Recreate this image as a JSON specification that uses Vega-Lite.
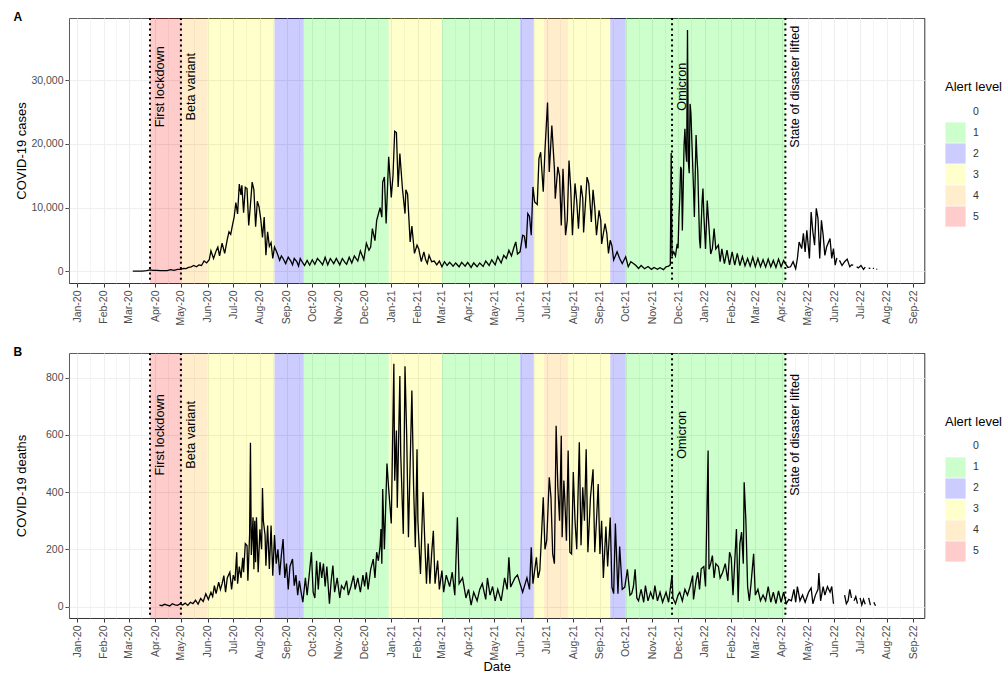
{
"$schema": "https://vega.github.io/schema/vega-lite/v6.json",
"padding": {"left": 13, "top": 10, "right": 0, "bottom": 0},
"config": {
  "font": "Liberation Sans",
  "view": {"stroke": "#333333", "strokeWidth": 1},
  "axis": {"domain": false, "labelFontSize": 10.5, "labelColor": "#4D4D4D", "tickColor": "#333333", "tickSize": 4, "titleFontSize": 13, "titleFontWeight": "normal", "titleColor": "#000000", "gridColor": "#EBEBEB"},
  "legend": {"titleFontSize": 13, "titleFontWeight": "normal", "titleColor": "#000000", "labelFontSize": 10.5, "labelColor": "#333333", "symbolType": "square", "symbolSize": 410, "symbolStrokeWidth": 0, "rowPadding": 0, "labelOffset": 7, "titlePadding": 7, "symbolOpacity": 0.2},
  "title": {"anchor": "start", "frame": "bounds", "fontSize": 12, "fontWeight": "bold", "offset": -7, "dx": -2, "color": "#000000"}
},
"datasets": {
"alerts": [
{"d":"2019-12-20","end":"2020-03-26","level":0},
{"d":"2020-03-26","end":"2020-05-01","level":5},
{"d":"2020-05-01","end":"2020-06-01","level":4},
{"d":"2020-06-01","end":"2020-08-18","level":3},
{"d":"2020-08-18","end":"2020-09-21","level":2},
{"d":"2020-09-21","end":"2020-12-29","level":1},
{"d":"2020-12-29","end":"2021-03-01","level":3},
{"d":"2021-03-01","end":"2021-05-31","level":1},
{"d":"2021-05-31","end":"2021-06-16","level":2},
{"d":"2021-06-16","end":"2021-06-28","level":3},
{"d":"2021-06-28","end":"2021-07-26","level":4},
{"d":"2021-07-26","end":"2021-09-13","level":3},
{"d":"2021-09-13","end":"2021-10-01","level":2},
{"d":"2021-10-01","end":"2022-04-05","level":1},
{"d":"2022-04-05","end":"2022-09-13","level":0}
],
"events": [
{"d":"2020-03-26","label":"First lockdown"},
{"d":"2020-05-01","label":"Beta variant"},
{"d":"2021-11-24","label":"Omicron"},
{"d":"2022-04-05","label":"State of disaster lifted"}
],
"cases": [
{"d":"2020-03-06","v":1},{"d":"2020-03-12","v":5},{"d":"2020-03-17","v":31},{"d":"2020-03-22","v":96},{"d":"2020-03-26","v":218},{"d":"2020-03-30","v":150},
{"d":"2020-04-03","v":150},{"d":"2020-04-07","v":80},{"d":"2020-04-11","v":100},{"d":"2020-04-15","v":100},{"d":"2020-04-19","v":250},{"d":"2020-04-23","v":150},{"d":"2020-04-27","v":300},
{"d":"2020-05-01","v":300},{"d":"2020-05-04","v":450},{"d":"2020-05-07","v":420},{"d":"2020-05-10","v":600},{"d":"2020-05-13","v":700},{"d":"2020-05-16","v":900},{"d":"2020-05-19","v":700},{"d":"2020-05-22","v":1000},{"d":"2020-05-25","v":900},{"d":"2020-05-28","v":1600},{"d":"2020-05-31","v":1300},
{"d":"2020-06-03","v":1800},{"d":"2020-06-05","v":3200},{"d":"2020-06-08","v":2000},{"d":"2020-06-11","v":3200},{"d":"2020-06-13","v":3800},{"d":"2020-06-15","v":2400},{"d":"2020-06-18","v":4400},{"d":"2020-06-21","v":2800},{"d":"2020-06-24","v":5000},{"d":"2020-06-26","v":6200},{"d":"2020-06-28","v":5800},{"d":"2020-06-30","v":7200},
{"d":"2020-07-02","v":8500},{"d":"2020-07-04","v":10800},{"d":"2020-07-06","v":9000},{"d":"2020-07-08","v":13700},{"d":"2020-07-10","v":12000},{"d":"2020-07-11","v":13500},{"d":"2020-07-13","v":9200},{"d":"2020-07-15","v":13200},{"d":"2020-07-17","v":13000},{"d":"2020-07-19","v":7200},{"d":"2020-07-21","v":10500},{"d":"2020-07-23","v":14000},{"d":"2020-07-25","v":12800},{"d":"2020-07-27","v":7000},{"d":"2020-07-29","v":11000},{"d":"2020-07-31","v":10100},
{"d":"2020-08-02","v":8200},{"d":"2020-08-04","v":5300},{"d":"2020-08-06","v":8500},{"d":"2020-08-08","v":2500},{"d":"2020-08-10","v":6200},{"d":"2020-08-12","v":3900},{"d":"2020-08-14","v":4500},{"d":"2020-08-16","v":2000},{"d":"2020-08-18","v":3800},{"d":"2020-08-20","v":3200},{"d":"2020-08-22","v":2500},{"d":"2020-08-24","v":1700},{"d":"2020-08-26","v":2400},{"d":"2020-08-28","v":2000},{"d":"2020-08-31","v":1200},
{"d":"2020-09-03","v":2200},{"d":"2020-09-06","v":1600},{"d":"2020-09-08","v":1000},{"d":"2020-09-10","v":2000},{"d":"2020-09-13","v":1500},{"d":"2020-09-15","v":800},{"d":"2020-09-17","v":2000},{"d":"2020-09-20","v":1300},{"d":"2020-09-22","v":900},{"d":"2020-09-25","v":1700},{"d":"2020-09-28","v":950},
{"d":"2020-10-01","v":1800},{"d":"2020-10-04","v":1100},{"d":"2020-10-07","v":2000},{"d":"2020-10-11","v":1400},{"d":"2020-10-13","v":1000},{"d":"2020-10-16","v":2200},{"d":"2020-10-19","v":1000},{"d":"2020-10-22","v":2000},{"d":"2020-10-26","v":1200},{"d":"2020-10-29","v":2000},
{"d":"2020-11-02","v":1000},{"d":"2020-11-05","v":2000},{"d":"2020-11-08","v":1400},{"d":"2020-11-10","v":1100},{"d":"2020-11-13","v":2200},{"d":"2020-11-16","v":1300},{"d":"2020-11-19","v":2400},{"d":"2020-11-23","v":1600},{"d":"2020-11-26","v":3200},{"d":"2020-11-30","v":1800},
{"d":"2020-12-03","v":4400},{"d":"2020-12-06","v":3300},{"d":"2020-12-08","v":3800},{"d":"2020-12-10","v":6700},{"d":"2020-12-13","v":4800},{"d":"2020-12-15","v":8000},{"d":"2020-12-17","v":9000},{"d":"2020-12-19","v":10000},{"d":"2020-12-21","v":8500},{"d":"2020-12-22","v":14000},{"d":"2020-12-24","v":14800},{"d":"2020-12-26","v":7500},{"d":"2020-12-29","v":18000},
{"d":"2021-01-01","v":11600},{"d":"2021-01-03","v":15000},{"d":"2021-01-05","v":22000},{"d":"2021-01-07","v":21800},{"d":"2021-01-09","v":13250},{"d":"2021-01-11","v":18500},{"d":"2021-01-14","v":13000},{"d":"2021-01-17","v":9060},{"d":"2021-01-18","v":12800},{"d":"2021-01-20","v":12100},{"d":"2021-01-23","v":4600},{"d":"2021-01-25","v":7100},{"d":"2021-01-28","v":2800},{"d":"2021-01-31","v":4100},
{"d":"2021-02-02","v":3500},{"d":"2021-02-05","v":1500},{"d":"2021-02-08","v":3050},{"d":"2021-02-10","v":1800},{"d":"2021-02-12","v":1220},{"d":"2021-02-14","v":2500},{"d":"2021-02-17","v":1500},{"d":"2021-02-20","v":1600},{"d":"2021-02-23","v":1000},{"d":"2021-02-26","v":1600},
{"d":"2021-03-01","v":700},{"d":"2021-03-04","v":1500},{"d":"2021-03-07","v":900},{"d":"2021-03-10","v":1400},{"d":"2021-03-14","v":800},{"d":"2021-03-17","v":1300},{"d":"2021-03-21","v":700},{"d":"2021-03-24","v":1400},{"d":"2021-03-28","v":800},{"d":"2021-03-31","v":1400},
{"d":"2021-04-04","v":600},{"d":"2021-04-07","v":1300},{"d":"2021-04-11","v":700},{"d":"2021-04-14","v":1300},{"d":"2021-04-18","v":750},{"d":"2021-04-21","v":1600},{"d":"2021-04-25","v":900},{"d":"2021-04-28","v":1800},
{"d":"2021-05-02","v":1000},{"d":"2021-05-05","v":2300},{"d":"2021-05-09","v":1300},{"d":"2021-05-12","v":2500},{"d":"2021-05-15","v":2000},{"d":"2021-05-18","v":3300},{"d":"2021-05-21","v":2400},{"d":"2021-05-24","v":3800},{"d":"2021-05-26","v":4600},{"d":"2021-05-28","v":2700},{"d":"2021-05-31","v":3050},
{"d":"2021-06-03","v":5650},{"d":"2021-06-05","v":5500},{"d":"2021-06-07","v":3600},{"d":"2021-06-09","v":9060},{"d":"2021-06-11","v":8600},{"d":"2021-06-13","v":5650},{"d":"2021-06-15","v":13250},{"d":"2021-06-17","v":10900},{"d":"2021-06-20","v":10500},{"d":"2021-06-22","v":17700},{"d":"2021-06-24","v":18700},{"d":"2021-06-27","v":12500},{"d":"2021-06-29","v":19000},
{"d":"2021-07-02","v":26500},{"d":"2021-07-04","v":15600},{"d":"2021-07-07","v":22900},{"d":"2021-07-10","v":16100},{"d":"2021-07-11","v":11400},{"d":"2021-07-14","v":16400},{"d":"2021-07-16","v":15000},{"d":"2021-07-18","v":7200},{"d":"2021-07-20","v":16100},{"d":"2021-07-23","v":5650},{"d":"2021-07-25","v":8000},{"d":"2021-07-27","v":17400},{"d":"2021-07-29","v":13000},{"d":"2021-07-31","v":5650},
{"d":"2021-08-03","v":13800},{"d":"2021-08-05","v":11000},{"d":"2021-08-07","v":6700},{"d":"2021-08-10","v":13500},{"d":"2021-08-12","v":11500},{"d":"2021-08-13","v":6100},{"d":"2021-08-17","v":14800},{"d":"2021-08-19","v":13800},{"d":"2021-08-22","v":7750},{"d":"2021-08-24","v":12800},{"d":"2021-08-26","v":10000},{"d":"2021-08-28","v":5650},{"d":"2021-08-31","v":9580},
{"d":"2021-09-02","v":8000},{"d":"2021-09-03","v":4300},{"d":"2021-09-07","v":7500},{"d":"2021-09-09","v":6000},{"d":"2021-09-11","v":2780},{"d":"2021-09-13","v":4870},{"d":"2021-09-15","v":4000},{"d":"2021-09-17","v":1780},{"d":"2021-09-21","v":3050},{"d":"2021-09-24","v":2000},{"d":"2021-09-27","v":1220},
{"d":"2021-10-01","v":2270},{"d":"2021-10-04","v":700},{"d":"2021-10-07","v":1500},{"d":"2021-10-10","v":1220},{"d":"2021-10-13","v":900},{"d":"2021-10-16","v":430},{"d":"2021-10-19","v":900},{"d":"2021-10-23","v":400},{"d":"2021-10-27","v":750},{"d":"2021-10-31","v":300},
{"d":"2021-11-03","v":600},{"d":"2021-11-07","v":300},{"d":"2021-11-10","v":550},{"d":"2021-11-14","v":250},{"d":"2021-11-17","v":700},{"d":"2021-11-20","v":800},{"d":"2021-11-22","v":1000},{"d":"2021-11-23","v":18600},{"d":"2021-11-24","v":2400},{"d":"2021-11-26","v":3050},{"d":"2021-11-28","v":2400},{"d":"2021-11-30","v":4300},
{"d":"2021-12-01","v":3600},{"d":"2021-12-02","v":8500},{"d":"2021-12-03","v":11500},{"d":"2021-12-04","v":16400},{"d":"2021-12-05","v":16000},{"d":"2021-12-06","v":6400},{"d":"2021-12-07","v":13000},{"d":"2021-12-08","v":19800},{"d":"2021-12-09","v":22400},{"d":"2021-12-10","v":19000},{"d":"2021-12-11","v":17200},{"d":"2021-12-12","v":37900},{"d":"2021-12-13","v":17200},{"d":"2021-12-14","v":15400},{"d":"2021-12-15","v":26300},{"d":"2021-12-16","v":24800},{"d":"2021-12-17","v":20800},{"d":"2021-12-19","v":13000},{"d":"2021-12-20","v":8540},{"d":"2021-12-21","v":15000},{"d":"2021-12-22","v":21400},{"d":"2021-12-23","v":18000},{"d":"2021-12-24","v":15600},{"d":"2021-12-26","v":5000},{"d":"2021-12-27","v":3600},{"d":"2021-12-28","v":7500},{"d":"2021-12-29","v":11000},{"d":"2021-12-30","v":13000},{"d":"2021-12-31","v":9000},
{"d":"2022-01-02","v":3500},{"d":"2022-01-04","v":11100},{"d":"2022-01-06","v":7000},{"d":"2022-01-08","v":2700},{"d":"2022-01-10","v":3600},{"d":"2022-01-12","v":6700},{"d":"2022-01-14","v":3500},{"d":"2022-01-17","v":4100},{"d":"2022-01-19","v":1500},{"d":"2022-01-21","v":3500},{"d":"2022-01-24","v":1200},{"d":"2022-01-27","v":3300},{"d":"2022-01-30","v":1000},
{"d":"2022-02-02","v":3050},{"d":"2022-02-05","v":950},{"d":"2022-02-08","v":2800},{"d":"2022-02-11","v":900},{"d":"2022-02-14","v":2300},{"d":"2022-02-17","v":850},{"d":"2022-02-20","v":2000},{"d":"2022-02-23","v":800},{"d":"2022-02-26","v":2200},
{"d":"2022-03-01","v":700},{"d":"2022-03-04","v":2000},{"d":"2022-03-07","v":700},{"d":"2022-03-10","v":1800},{"d":"2022-03-13","v":650},{"d":"2022-03-16","v":1900},{"d":"2022-03-19","v":700},{"d":"2022-03-22","v":1700},{"d":"2022-03-25","v":600},{"d":"2022-03-28","v":1900},{"d":"2022-03-31","v":700},
{"d":"2022-04-03","v":1700},{"d":"2022-04-05","v":1200},{"d":"2022-04-08","v":600},{"d":"2022-04-11","v":700},{"d":"2022-04-14","v":1500},{"d":"2022-04-17","v":400},{"d":"2022-04-19","v":2000},{"d":"2022-04-21","v":4600},{"d":"2022-04-24","v":3560},{"d":"2022-04-26","v":5950},{"d":"2022-04-28","v":3050},{"d":"2022-04-30","v":6450},
{"d":"2022-05-03","v":2000},{"d":"2022-05-05","v":9300},{"d":"2022-05-07","v":6200},{"d":"2022-05-09","v":4100},{"d":"2022-05-11","v":9900},{"d":"2022-05-13","v":8280},{"d":"2022-05-15","v":2000},{"d":"2022-05-17","v":8000},{"d":"2022-05-19","v":5660},{"d":"2022-05-21","v":2500},{"d":"2022-05-23","v":3800},{"d":"2022-05-27","v":5140},{"d":"2022-05-29","v":2000},{"d":"2022-05-31","v":3560},
{"d":"2022-06-02","v":950},{"d":"2022-06-04","v":2100},{"d":"2022-06-05","v":null},{"d":"2022-06-07","v":1700},{"d":"2022-06-10","v":900},{"d":"2022-06-13","v":1500},{"d":"2022-06-16","v":1900},{"d":"2022-06-19","v":690},{"d":"2022-06-21","v":1000},{"d":"2022-06-23","v":950},{"d":"2022-06-25","v":null},{"d":"2022-06-27","v":700},{"d":"2022-06-29","v":530},
{"d":"2022-07-02","v":900},{"d":"2022-07-05","v":300},{"d":"2022-07-07","v":650},{"d":"2022-07-09","v":null},{"d":"2022-07-11","v":500},{"d":"2022-07-13","v":450},{"d":"2022-07-14","v":null},{"d":"2022-07-16","v":400},{"d":"2022-07-17","v":500},{"d":"2022-07-18","v":null},{"d":"2022-07-20","v":300},{"d":"2022-07-21","v":350}
],
"deaths": [
{"d":"2020-04-06","v":5},{"d":"2020-04-09","v":3},{"d":"2020-04-12","v":8},{"d":"2020-04-15","v":5},{"d":"2020-04-18","v":2},{"d":"2020-04-21","v":10},{"d":"2020-04-24","v":6},{"d":"2020-04-27","v":4},{"d":"2020-04-30","v":9},
{"d":"2020-05-03","v":5},{"d":"2020-05-06","v":12},{"d":"2020-05-09","v":4},{"d":"2020-05-12","v":15},{"d":"2020-05-15","v":10},{"d":"2020-05-18","v":22},{"d":"2020-05-21","v":8},{"d":"2020-05-24","v":28},{"d":"2020-05-27","v":18},{"d":"2020-05-30","v":45},
{"d":"2020-06-02","v":25},{"d":"2020-06-05","v":50},{"d":"2020-06-07","v":35},{"d":"2020-06-09","v":73},{"d":"2020-06-11","v":45},{"d":"2020-06-14","v":85},{"d":"2020-06-16","v":60},{"d":"2020-06-18","v":80},{"d":"2020-06-20","v":108},{"d":"2020-06-22","v":50},{"d":"2020-06-24","v":100},{"d":"2020-06-27","v":120},{"d":"2020-06-29","v":60},
{"d":"2020-07-01","v":110},{"d":"2020-07-03","v":90},{"d":"2020-07-05","v":190},{"d":"2020-07-06","v":80},{"d":"2020-07-08","v":140},{"d":"2020-07-10","v":100},{"d":"2020-07-12","v":170},{"d":"2020-07-13","v":120},{"d":"2020-07-15","v":220},{"d":"2020-07-17","v":213},{"d":"2020-07-18","v":90},{"d":"2020-07-20","v":250},{"d":"2020-07-21","v":572},{"d":"2020-07-22","v":180},{"d":"2020-07-24","v":312},{"d":"2020-07-25","v":130},{"d":"2020-07-26","v":300},{"d":"2020-07-27","v":155},{"d":"2020-07-28","v":312},{"d":"2020-07-30","v":120},
{"d":"2020-08-01","v":270},{"d":"2020-08-03","v":200},{"d":"2020-08-04","v":414},{"d":"2020-08-05","v":300},{"d":"2020-08-07","v":250},{"d":"2020-08-08","v":143},{"d":"2020-08-10","v":283},{"d":"2020-08-12","v":131},{"d":"2020-08-14","v":283},{"d":"2020-08-16","v":108},{"d":"2020-08-18","v":250},{"d":"2020-08-20","v":150},{"d":"2020-08-22","v":200},{"d":"2020-08-24","v":110},{"d":"2020-08-26","v":180},{"d":"2020-08-28","v":236},{"d":"2020-08-30","v":100},
{"d":"2020-09-01","v":150},{"d":"2020-09-03","v":60},{"d":"2020-09-05","v":140},{"d":"2020-09-08","v":166},{"d":"2020-09-10","v":73},{"d":"2020-09-12","v":110},{"d":"2020-09-14","v":40},{"d":"2020-09-16","v":90},{"d":"2020-09-18","v":50},{"d":"2020-09-20","v":15},{"d":"2020-09-23","v":100},{"d":"2020-09-25","v":40},{"d":"2020-09-27","v":97},{"d":"2020-09-30","v":190},
{"d":"2020-10-02","v":50},{"d":"2020-10-04","v":30},{"d":"2020-10-06","v":160},{"d":"2020-10-08","v":60},{"d":"2020-10-10","v":155},{"d":"2020-10-12","v":100},{"d":"2020-10-14","v":150},{"d":"2020-10-16","v":70},{"d":"2020-10-18","v":140},{"d":"2020-10-21","v":10},{"d":"2020-10-23","v":90},{"d":"2020-10-25","v":143},{"d":"2020-10-27","v":50},{"d":"2020-10-30","v":100},
{"d":"2020-11-02","v":30},{"d":"2020-11-04","v":73},{"d":"2020-11-07","v":60},{"d":"2020-11-10","v":90},{"d":"2020-11-12","v":40},{"d":"2020-11-15","v":70},{"d":"2020-11-18","v":108},{"d":"2020-11-20","v":60},{"d":"2020-11-23","v":100},{"d":"2020-11-26","v":50},{"d":"2020-11-29","v":110},
{"d":"2020-12-01","v":70},{"d":"2020-12-03","v":120},{"d":"2020-12-05","v":60},{"d":"2020-12-08","v":130},{"d":"2020-12-11","v":166},{"d":"2020-12-13","v":100},{"d":"2020-12-15","v":190},{"d":"2020-12-17","v":160},{"d":"2020-12-19","v":213},{"d":"2020-12-20","v":271},{"d":"2020-12-21","v":150},{"d":"2020-12-22","v":411},{"d":"2020-12-24","v":200},{"d":"2020-12-27","v":500},{"d":"2020-12-29","v":411},
{"d":"2021-01-01","v":290},{"d":"2021-01-04","v":848},{"d":"2021-01-05","v":440},{"d":"2021-01-07","v":615},{"d":"2021-01-08","v":345},{"d":"2021-01-11","v":806},{"d":"2021-01-12","v":533},{"d":"2021-01-15","v":254},{"d":"2021-01-17","v":840},{"d":"2021-01-19","v":590},{"d":"2021-01-21","v":242},{"d":"2021-01-23","v":500},{"d":"2021-01-25","v":755},{"d":"2021-01-27","v":420},{"d":"2021-01-29","v":207},{"d":"2021-01-31","v":550},
{"d":"2021-02-01","v":300},{"d":"2021-02-04","v":114},{"d":"2021-02-07","v":400},{"d":"2021-02-09","v":230},{"d":"2021-02-11","v":80},{"d":"2021-02-13","v":220},{"d":"2021-02-15","v":80},{"d":"2021-02-17","v":184},{"d":"2021-02-19","v":265},{"d":"2021-02-21","v":80},{"d":"2021-02-24","v":161},{"d":"2021-02-26","v":60},
{"d":"2021-03-01","v":126},{"d":"2021-03-03","v":50},{"d":"2021-03-06","v":110},{"d":"2021-03-10","v":70},{"d":"2021-03-13","v":120},{"d":"2021-03-16","v":40},{"d":"2021-03-19","v":312},{"d":"2021-03-21","v":80},{"d":"2021-03-25","v":100},{"d":"2021-03-29","v":30},
{"d":"2021-04-01","v":60},{"d":"2021-04-04","v":5},{"d":"2021-04-07","v":50},{"d":"2021-04-11","v":20},{"d":"2021-04-14","v":60},{"d":"2021-04-17","v":80},{"d":"2021-04-21","v":25},{"d":"2021-04-23","v":100},{"d":"2021-04-26","v":40},{"d":"2021-04-29","v":70},
{"d":"2021-05-02","v":20},{"d":"2021-05-05","v":60},{"d":"2021-05-09","v":20},{"d":"2021-05-13","v":100},{"d":"2021-05-16","v":60},{"d":"2021-05-18","v":172},{"d":"2021-05-20","v":68},{"d":"2021-05-25","v":100},{"d":"2021-05-28","v":110},{"d":"2021-05-31","v":80},
{"d":"2021-06-03","v":50},{"d":"2021-06-08","v":100},{"d":"2021-06-11","v":60},{"d":"2021-06-13","v":207},{"d":"2021-06-15","v":80},{"d":"2021-06-19","v":172},{"d":"2021-06-21","v":100},{"d":"2021-06-23","v":126},{"d":"2021-06-25","v":250},{"d":"2021-06-27","v":382},{"d":"2021-06-29","v":200},
{"d":"2021-07-01","v":230},{"d":"2021-07-02","v":300},{"d":"2021-07-04","v":452},{"d":"2021-07-06","v":382},{"d":"2021-07-08","v":184},{"d":"2021-07-10","v":150},{"d":"2021-07-12","v":632},{"d":"2021-07-14","v":417},{"d":"2021-07-16","v":300},{"d":"2021-07-18","v":597},{"d":"2021-07-19","v":242},{"d":"2021-07-21","v":440},{"d":"2021-07-22","v":382},{"d":"2021-07-24","v":230},{"d":"2021-07-26","v":545},{"d":"2021-07-28","v":190},{"d":"2021-07-30","v":184},
{"d":"2021-08-01","v":470},{"d":"2021-08-03","v":300},{"d":"2021-08-05","v":200},{"d":"2021-08-08","v":574},{"d":"2021-08-10","v":214},{"d":"2021-08-12","v":417},{"d":"2021-08-14","v":300},{"d":"2021-08-16","v":550},{"d":"2021-08-18","v":190},{"d":"2021-08-21","v":382},{"d":"2021-08-24","v":480},{"d":"2021-08-26","v":190},{"d":"2021-08-28","v":300},{"d":"2021-08-30","v":428},
{"d":"2021-09-01","v":184},{"d":"2021-09-03","v":300},{"d":"2021-09-05","v":100},{"d":"2021-09-08","v":280},{"d":"2021-09-10","v":140},{"d":"2021-09-13","v":311},{"d":"2021-09-15","v":68},{"d":"2021-09-17","v":45},{"d":"2021-09-19","v":290},{"d":"2021-09-22","v":45},{"d":"2021-09-24","v":210},{"d":"2021-09-27","v":60},{"d":"2021-09-30","v":68},
{"d":"2021-10-03","v":130},{"d":"2021-10-06","v":40},{"d":"2021-10-08","v":45},{"d":"2021-10-10","v":70},{"d":"2021-10-12","v":130},{"d":"2021-10-14","v":30},{"d":"2021-10-16","v":20},{"d":"2021-10-19","v":60},{"d":"2021-10-22","v":15},{"d":"2021-10-24","v":73},{"d":"2021-10-27","v":20},{"d":"2021-10-30","v":50},
{"d":"2021-11-02","v":25},{"d":"2021-11-04","v":73},{"d":"2021-11-07","v":20},{"d":"2021-11-10","v":50},{"d":"2021-11-13","v":15},{"d":"2021-11-17","v":50},{"d":"2021-11-20","v":15},{"d":"2021-11-24","v":110},{"d":"2021-11-25","v":30},{"d":"2021-11-28","v":10},
{"d":"2021-12-01","v":40},{"d":"2021-12-03","v":50},{"d":"2021-12-06","v":20},{"d":"2021-12-09","v":60},{"d":"2021-12-12","v":40},{"d":"2021-12-15","v":70},{"d":"2021-12-18","v":108},{"d":"2021-12-19","v":25},{"d":"2021-12-22","v":90},{"d":"2021-12-24","v":120},{"d":"2021-12-26","v":60},{"d":"2021-12-28","v":132},{"d":"2021-12-31","v":140},
{"d":"2022-01-02","v":70},{"d":"2022-01-05","v":545},{"d":"2022-01-06","v":130},{"d":"2022-01-08","v":150},{"d":"2022-01-10","v":178},{"d":"2022-01-12","v":100},{"d":"2022-01-14","v":150},{"d":"2022-01-17","v":140},{"d":"2022-01-19","v":100},{"d":"2022-01-22","v":120},{"d":"2022-01-25","v":150},{"d":"2022-01-28","v":90},{"d":"2022-01-30","v":190},
{"d":"2022-02-01","v":170},{"d":"2022-02-03","v":40},{"d":"2022-02-07","v":271},{"d":"2022-02-09","v":15},{"d":"2022-02-11","v":220},{"d":"2022-02-13","v":260},{"d":"2022-02-15","v":150},{"d":"2022-02-16","v":434},{"d":"2022-02-18","v":300},{"d":"2022-02-20","v":70},{"d":"2022-02-22","v":20},{"d":"2022-02-24","v":80},{"d":"2022-02-27","v":184},
{"d":"2022-03-01","v":40},{"d":"2022-03-04","v":60},{"d":"2022-03-07","v":20},{"d":"2022-03-10","v":40},{"d":"2022-03-13","v":20},{"d":"2022-03-16","v":70},{"d":"2022-03-19","v":15},{"d":"2022-03-22","v":50},{"d":"2022-03-25","v":10},{"d":"2022-03-28","v":55},{"d":"2022-03-31","v":15},
{"d":"2022-04-03","v":50},{"d":"2022-04-06","v":10},{"d":"2022-04-09","v":25},{"d":"2022-04-12","v":20},{"d":"2022-04-15","v":60},{"d":"2022-04-17","v":15},{"d":"2022-04-19","v":70},{"d":"2022-04-22","v":20},{"d":"2022-04-25","v":40},{"d":"2022-04-28","v":15},
{"d":"2022-05-02","v":50},{"d":"2022-05-05","v":65},{"d":"2022-05-07","v":10},{"d":"2022-05-10","v":40},{"d":"2022-05-13","v":60},{"d":"2022-05-14","v":117},{"d":"2022-05-16","v":20},{"d":"2022-05-19","v":70},{"d":"2022-05-21","v":40},{"d":"2022-05-24","v":70},{"d":"2022-05-27","v":50},{"d":"2022-05-29","v":70},{"d":"2022-05-31","v":10},
{"d":"2022-06-01","v":null},{"d":"2022-06-12","v":null},{"d":"2022-06-13","v":40},{"d":"2022-06-15","v":10},{"d":"2022-06-17","v":20},{"d":"2022-06-19","v":60},{"d":"2022-06-21","v":30},{"d":"2022-06-22","v":null},{"d":"2022-06-24","v":20},{"d":"2022-06-26","v":35},{"d":"2022-06-28","v":10},{"d":"2022-06-29","v":null},
{"d":"2022-07-01","v":30},{"d":"2022-07-03","v":5},{"d":"2022-07-05","v":25},{"d":"2022-07-07","v":8},{"d":"2022-07-09","v":null},{"d":"2022-07-11","v":30},{"d":"2022-07-13","v":5},{"d":"2022-07-14","v":null},{"d":"2022-07-17","v":15},{"d":"2022-07-19","v":3}
]
},
"spacing": 19,
"resolve": {"legend": {"color": "independent"}},
"vconcat": [
{
"width": 855.3, "height": 265,
"title": {"text": "A"},
"encoding": {
  "x": {"field": "d", "type": "temporal",
   "scale": {"domain": [{"year":2019,"month":12,"date":22,"hours":16,"utc":true},{"year":2022,"month":9,"date":13,"hours":19,"utc":true}]},
   "axis": {"title": null, "labelAngle": 270, "labelPadding": 3, "labelOverlap": {"expr": "false"}, "labelFlush": false, "labelBound": false,
    "labelExpr": "utcdate(datum.value) === 1 ? utcFormat(datum.value, '%b-%y') : ''",
    "gridWidth": {"condition": {"test": "utcdate(datum.value) === 1", "value": 1.1}, "value": 0.6},
    "tickOpacity": {"condition": {"test": "utcdate(datum.value) === 1", "value": 1}, "value": 0},
    "values": [
{"year":2020,"month":1,"date":1,"utc":true},{"year":2020,"month":1,"date":16,"utc":true},{"year":2020,"month":2,"date":1,"utc":true},{"year":2020,"month":2,"date":15,"utc":true},{"year":2020,"month":3,"date":1,"utc":true},{"year":2020,"month":3,"date":16,"utc":true},{"year":2020,"month":4,"date":1,"utc":true},{"year":2020,"month":4,"date":16,"utc":true},{"year":2020,"month":5,"date":1,"utc":true},{"year":2020,"month":5,"date":16,"utc":true},{"year":2020,"month":6,"date":1,"utc":true},{"year":2020,"month":6,"date":16,"utc":true},{"year":2020,"month":7,"date":1,"utc":true},{"year":2020,"month":7,"date":16,"utc":true},{"year":2020,"month":8,"date":1,"utc":true},{"year":2020,"month":8,"date":16,"utc":true},{"year":2020,"month":9,"date":1,"utc":true},{"year":2020,"month":9,"date":16,"utc":true},{"year":2020,"month":10,"date":1,"utc":true},{"year":2020,"month":10,"date":16,"utc":true},{"year":2020,"month":11,"date":1,"utc":true},{"year":2020,"month":11,"date":16,"utc":true},{"year":2020,"month":12,"date":1,"utc":true},{"year":2020,"month":12,"date":16,"utc":true},
{"year":2021,"month":1,"date":1,"utc":true},{"year":2021,"month":1,"date":16,"utc":true},{"year":2021,"month":2,"date":1,"utc":true},{"year":2021,"month":2,"date":15,"utc":true},{"year":2021,"month":3,"date":1,"utc":true},{"year":2021,"month":3,"date":16,"utc":true},{"year":2021,"month":4,"date":1,"utc":true},{"year":2021,"month":4,"date":16,"utc":true},{"year":2021,"month":5,"date":1,"utc":true},{"year":2021,"month":5,"date":16,"utc":true},{"year":2021,"month":6,"date":1,"utc":true},{"year":2021,"month":6,"date":16,"utc":true},{"year":2021,"month":7,"date":1,"utc":true},{"year":2021,"month":7,"date":16,"utc":true},{"year":2021,"month":8,"date":1,"utc":true},{"year":2021,"month":8,"date":16,"utc":true},{"year":2021,"month":9,"date":1,"utc":true},{"year":2021,"month":9,"date":16,"utc":true},{"year":2021,"month":10,"date":1,"utc":true},{"year":2021,"month":10,"date":16,"utc":true},{"year":2021,"month":11,"date":1,"utc":true},{"year":2021,"month":11,"date":16,"utc":true},{"year":2021,"month":12,"date":1,"utc":true},{"year":2021,"month":12,"date":16,"utc":true},
{"year":2022,"month":1,"date":1,"utc":true},{"year":2022,"month":1,"date":16,"utc":true},{"year":2022,"month":2,"date":1,"utc":true},{"year":2022,"month":2,"date":15,"utc":true},{"year":2022,"month":3,"date":1,"utc":true},{"year":2022,"month":3,"date":16,"utc":true},{"year":2022,"month":4,"date":1,"utc":true},{"year":2022,"month":4,"date":16,"utc":true},{"year":2022,"month":5,"date":1,"utc":true},{"year":2022,"month":5,"date":16,"utc":true},{"year":2022,"month":6,"date":1,"utc":true},{"year":2022,"month":6,"date":16,"utc":true},{"year":2022,"month":7,"date":1,"utc":true},{"year":2022,"month":7,"date":16,"utc":true},{"year":2022,"month":8,"date":1,"utc":true},{"year":2022,"month":8,"date":16,"utc":true},{"year":2022,"month":9,"date":1,"utc":true}
    ]}}
},
"layer": [
{"data": {"name": "alerts"}, "mark": {"type": "rect", "opacity": 0.2},
 "encoding": {
  "x2": {"field": "end"},
  "color": {"field": "level", "type": "ordinal", "scale": {"domain": [0,1,2,3,4,5], "range": ["#ffffff","#00ff00","#0000ff","#ffff00","#ffa500","#ff0000"]},
   "legend": {"title": "Alert level", "orient": "none", "legendX": 876, "legendY": 63}}
 }},
{"data": {"name": "cases"}, "mark": {"type": "line", "color": "#000000", "strokeWidth": 1.3, "invalid": "break-paths-filter-domains"},
 "encoding": {
  "y": {"field": "v", "type": "quantitative", "scale": {"domain": [-1850, 39800], "nice": false, "zero": false},
   "axis": {"title": "COVID-19 cases", "titleX": -40.5, "titleY": 132.5, "labelPadding": 2,
    "values": [0,5000,10000,15000,20000,25000,30000,35000],
    "labelExpr": "datum.value % 10000 === 0 ? format(datum.value, ',') : ''",
    "gridWidth": {"condition": {"test": "datum.value % 10000 === 0", "value": 1.1}, "value": 0.6},
    "tickOpacity": {"condition": {"test": "datum.value % 10000 === 0", "value": 1}, "value": 0}}}
 }},
{"data": {"name": "events"}, "mark": {"type": "rule", "color": "#000000", "strokeWidth": 2, "strokeDash": [2, 3.3]},
 "encoding": {}},
{"data": {"name": "events"}, "mark": {"type": "text", "angle": 270, "align": "center", "baseline": "top", "dy": 4, "fontSize": 12.7, "color": "#000000"},
 "encoding": {"y": {"datum": 29000, "type": "quantitative"}, "text": {"field": "label"}}}
]
},
{
"width": 855.3, "height": 265,
"title": {"text": "B"},
"encoding": {
  "x": {"field": "d", "type": "temporal",
   "scale": {"domain": [{"year":2019,"month":12,"date":22,"hours":16,"utc":true},{"year":2022,"month":9,"date":13,"hours":19,"utc":true}]},
   "axis": {"title": "Date", "titlePadding": 0, "labelAngle": 270, "labelPadding": 3, "labelOverlap": {"expr": "false"}, "labelFlush": false, "labelBound": false,
    "labelExpr": "utcdate(datum.value) === 1 ? utcFormat(datum.value, '%b-%y') : ''",
    "gridWidth": {"condition": {"test": "utcdate(datum.value) === 1", "value": 1.1}, "value": 0.6},
    "tickOpacity": {"condition": {"test": "utcdate(datum.value) === 1", "value": 1}, "value": 0},
    "values": [
{"year":2020,"month":1,"date":1,"utc":true},{"year":2020,"month":1,"date":16,"utc":true},{"year":2020,"month":2,"date":1,"utc":true},{"year":2020,"month":2,"date":15,"utc":true},{"year":2020,"month":3,"date":1,"utc":true},{"year":2020,"month":3,"date":16,"utc":true},{"year":2020,"month":4,"date":1,"utc":true},{"year":2020,"month":4,"date":16,"utc":true},{"year":2020,"month":5,"date":1,"utc":true},{"year":2020,"month":5,"date":16,"utc":true},{"year":2020,"month":6,"date":1,"utc":true},{"year":2020,"month":6,"date":16,"utc":true},{"year":2020,"month":7,"date":1,"utc":true},{"year":2020,"month":7,"date":16,"utc":true},{"year":2020,"month":8,"date":1,"utc":true},{"year":2020,"month":8,"date":16,"utc":true},{"year":2020,"month":9,"date":1,"utc":true},{"year":2020,"month":9,"date":16,"utc":true},{"year":2020,"month":10,"date":1,"utc":true},{"year":2020,"month":10,"date":16,"utc":true},{"year":2020,"month":11,"date":1,"utc":true},{"year":2020,"month":11,"date":16,"utc":true},{"year":2020,"month":12,"date":1,"utc":true},{"year":2020,"month":12,"date":16,"utc":true},
{"year":2021,"month":1,"date":1,"utc":true},{"year":2021,"month":1,"date":16,"utc":true},{"year":2021,"month":2,"date":1,"utc":true},{"year":2021,"month":2,"date":15,"utc":true},{"year":2021,"month":3,"date":1,"utc":true},{"year":2021,"month":3,"date":16,"utc":true},{"year":2021,"month":4,"date":1,"utc":true},{"year":2021,"month":4,"date":16,"utc":true},{"year":2021,"month":5,"date":1,"utc":true},{"year":2021,"month":5,"date":16,"utc":true},{"year":2021,"month":6,"date":1,"utc":true},{"year":2021,"month":6,"date":16,"utc":true},{"year":2021,"month":7,"date":1,"utc":true},{"year":2021,"month":7,"date":16,"utc":true},{"year":2021,"month":8,"date":1,"utc":true},{"year":2021,"month":8,"date":16,"utc":true},{"year":2021,"month":9,"date":1,"utc":true},{"year":2021,"month":9,"date":16,"utc":true},{"year":2021,"month":10,"date":1,"utc":true},{"year":2021,"month":10,"date":16,"utc":true},{"year":2021,"month":11,"date":1,"utc":true},{"year":2021,"month":11,"date":16,"utc":true},{"year":2021,"month":12,"date":1,"utc":true},{"year":2021,"month":12,"date":16,"utc":true},
{"year":2022,"month":1,"date":1,"utc":true},{"year":2022,"month":1,"date":16,"utc":true},{"year":2022,"month":2,"date":1,"utc":true},{"year":2022,"month":2,"date":15,"utc":true},{"year":2022,"month":3,"date":1,"utc":true},{"year":2022,"month":3,"date":16,"utc":true},{"year":2022,"month":4,"date":1,"utc":true},{"year":2022,"month":4,"date":16,"utc":true},{"year":2022,"month":5,"date":1,"utc":true},{"year":2022,"month":5,"date":16,"utc":true},{"year":2022,"month":6,"date":1,"utc":true},{"year":2022,"month":6,"date":16,"utc":true},{"year":2022,"month":7,"date":1,"utc":true},{"year":2022,"month":7,"date":16,"utc":true},{"year":2022,"month":8,"date":1,"utc":true},{"year":2022,"month":8,"date":16,"utc":true},{"year":2022,"month":9,"date":1,"utc":true}
    ]}}
},
"layer": [
{"data": {"name": "alerts"}, "mark": {"type": "rect", "opacity": 0.2},
 "encoding": {
  "x2": {"field": "end"},
  "color": {"field": "level", "type": "ordinal", "scale": {"domain": [0,1,2,3,4,5], "range": ["#ffffff","#00ff00","#0000ff","#ffff00","#ffa500","#ff0000"]},
   "legend": {"title": "Alert level", "orient": "none", "legendX": 876, "legendY": 63}}
 }},
{"data": {"name": "deaths"}, "mark": {"type": "line", "color": "#000000", "strokeWidth": 1.3, "invalid": "break-paths-filter-domains"},
 "encoding": {
  "y": {"field": "v", "type": "quantitative", "scale": {"domain": [-40, 886], "nice": false, "zero": false},
   "axis": {"title": "COVID-19 deaths", "titleX": -40.5, "titleY": 132.5, "labelPadding": 2,
    "values": [0,100,200,300,400,500,600,700,800],
    "labelExpr": "datum.value % 200 === 0 ? format(datum.value, ',') : ''",
    "gridWidth": {"condition": {"test": "datum.value % 200 === 0", "value": 1.1}, "value": 0.6},
    "tickOpacity": {"condition": {"test": "datum.value % 200 === 0", "value": 1}, "value": 0}}}
 }},
{"data": {"name": "events"}, "mark": {"type": "rule", "color": "#000000", "strokeWidth": 2, "strokeDash": [2, 3.3]},
 "encoding": {}},
{"data": {"name": "events"}, "mark": {"type": "text", "angle": 270, "align": "center", "baseline": "top", "dy": 4, "fontSize": 12.7, "color": "#000000"},
 "encoding": {"y": {"datum": 600, "type": "quantitative"}, "text": {"field": "label"}}}
]
}
]
}
